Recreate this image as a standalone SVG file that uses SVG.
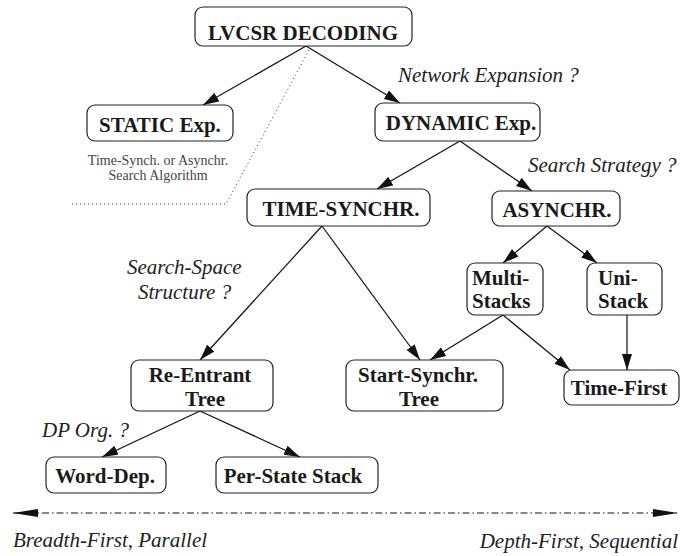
<svg xmlns="http://www.w3.org/2000/svg" width="680" height="556" viewBox="0 0 680 556">
  <style>
    .box { fill: #ffffff; stroke: #222222; stroke-width: 1.2; }
    .lbl { font-family: "Liberation Serif", "Times New Roman", serif; font-weight: bold; font-size: 21px; fill: #1a1a1a; }
    .mid { text-anchor: middle; }
    .q { font-family: "Liberation Serif", "Times New Roman", serif; font-style: italic; font-size: 21px; fill: #222222; }
    .note { font-family: "Liberation Serif", "Times New Roman", serif; font-size: 14px; fill: #444444; text-anchor: middle; }
    .edge { stroke: #111111; stroke-width: 1.2; fill: none; marker-end: url(#head); }
  </style>
  <defs>
    <marker id="head" markerUnits="userSpaceOnUse" markerWidth="18" markerHeight="12" refX="16" refY="5" orient="auto">
      <path d="M0,0 L16,5 L0,10 z" fill="#111111"/>
    </marker>
    <marker id="axisHead" markerUnits="userSpaceOnUse" markerWidth="26" markerHeight="10" refX="25" refY="4" orient="auto-start-reverse">
      <path d="M0,0 L25,4 L0,8 z" fill="#111111"/>
    </marker>
  </defs>

  <!-- connectors -->
  <g id="connectors">
    <line class="edge" x1="306" y1="46" x2="203" y2="105"/>
    <line class="edge" x1="306" y1="46" x2="400" y2="103"/>
    <line class="edge" x1="460" y1="141" x2="377" y2="189"/>
    <line class="edge" x1="460" y1="141" x2="532" y2="191"/>
    <line class="edge" x1="322" y1="226" x2="200" y2="360"/>
    <line class="edge" x1="322" y1="226" x2="420" y2="360"/>
    <line class="edge" x1="547" y1="226" x2="503" y2="263"/>
    <line class="edge" x1="547" y1="226" x2="597" y2="263"/>
    <line class="edge" x1="503" y1="315" x2="430" y2="360"/>
    <line class="edge" x1="503" y1="315" x2="570" y2="370"/>
    <line class="edge" x1="627" y1="315" x2="627" y2="370"/>
    <line class="edge" x1="200" y1="411" x2="102" y2="457"/>
    <line class="edge" x1="200" y1="411" x2="300" y2="457"/>
  </g>

  <!-- dotted separator of the static branch -->
  <polyline points="309,50 226,204 72,204" fill="none" stroke="#333333" stroke-width="1" stroke-dasharray="1 3"/>

  <!-- nodes -->
  <g id="lvcsr">
    <rect class="box" x="195" y="7" width="217" height="39" rx="8"/>
    <text class="lbl mid" x="303" y="40">LVCSR DECODING</text>
  </g>
  <g id="static">
    <rect class="box" x="87" y="105" width="146" height="36" rx="8"/>
    <text class="lbl mid" x="160" y="132">STATIC Exp.</text>
  </g>
  <g id="dynamic">
    <rect class="box" x="375" y="103" width="165" height="38" rx="8"/>
    <text class="lbl mid" x="461" y="130">DYNAMIC Exp.</text>
  </g>
  <g id="time-synchr">
    <rect class="box" x="247" y="189" width="183" height="37" rx="8"/>
    <text class="lbl mid" x="341" y="216">TIME-SYNCHR.</text>
  </g>
  <g id="asynchr">
    <rect class="box" x="492" y="191" width="128" height="35" rx="8"/>
    <text class="lbl mid" x="557" y="217">ASYNCHR.</text>
  </g>
  <g id="multi-stacks">
    <rect class="box" x="467" y="263" width="76" height="52" rx="8"/>
    <text class="lbl" x="472" y="285">Multi-</text>
    <text class="lbl" x="472" y="308">Stacks</text>
  </g>
  <g id="uni-stack">
    <rect class="box" x="587" y="263" width="75" height="52" rx="8"/>
    <text class="lbl" x="598" y="285">Uni-</text>
    <text class="lbl" x="598" y="308">Stack</text>
  </g>
  <g id="re-entrant">
    <rect class="box" x="131" y="360" width="142" height="51" rx="8"/>
    <text class="lbl mid" x="200" y="382">Re-Entrant</text>
    <text class="lbl mid" x="205" y="406">Tree</text>
  </g>
  <g id="start-synchr">
    <rect class="box" x="346" y="360" width="157" height="51" rx="8"/>
    <text class="lbl mid" x="418" y="382">Start-Synchr.</text>
    <text class="lbl mid" x="419" y="406">Tree</text>
  </g>
  <g id="time-first">
    <rect class="box" x="564" y="370" width="115" height="35" rx="8"/>
    <text class="lbl mid" x="619" y="395">Time-First</text>
  </g>
  <g id="word-dep">
    <rect class="box" x="46" y="457" width="120" height="36" rx="8"/>
    <text class="lbl mid" x="105" y="483">Word-Dep.</text>
  </g>
  <g id="per-state">
    <rect class="box" x="216" y="457" width="162" height="36" rx="8"/>
    <text class="lbl mid" x="293" y="483">Per-State Stack</text>
  </g>

  <!-- annotations -->
  <text class="note" x="158" y="165">Time-Synch. or Asynchr.</text>
  <text class="note" x="158" y="180">Search Algorithm</text>
  <text class="q" x="398" y="82">Network Expansion ?</text>
  <text class="q" x="528" y="172">Search Strategy ?</text>
  <text class="q" x="127" y="274">Search-Space</text>
  <text class="q" x="138" y="299">Structure ?</text>
  <text class="q" x="42" y="437">DP Org. ?</text>

  <!-- breadth/depth axis -->
  <line x1="13" y1="513" x2="678" y2="513" stroke="#111111" stroke-width="1" stroke-dasharray="7 3 1.5 3" marker-start="url(#axisHead)" marker-end="url(#axisHead)"/>
  <text class="q" x="13" y="547">Breadth-First, Parallel</text>
  <text class="q" x="678" y="548" text-anchor="end">Depth-First, Sequential</text>
</svg>
